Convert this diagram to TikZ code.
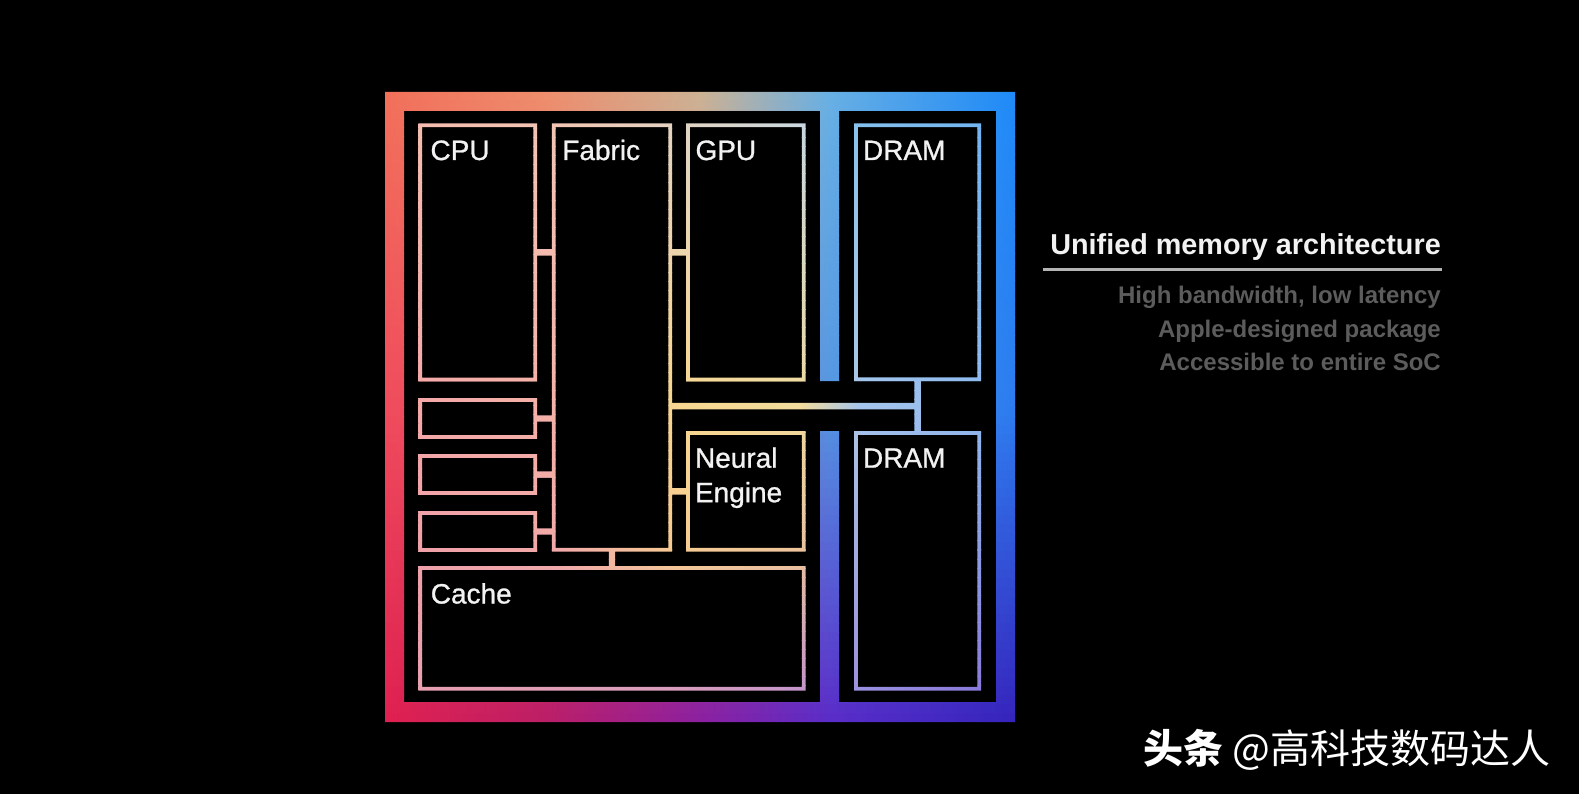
\documentclass[tikz,border=0pt]{standalone}
\usepackage{fontspec}
\setmainfont{Liberation Sans}
\newfontfamily\labelfont[FakeBold=1]{Liberation Sans}
\newfontfamily\cjkfont{Noto Sans CJK SC}
\usetikzlibrary{calc}
% frame gradient grid (rows y=92,407,722 ; columns x=385,542,700,830,1015)
\definecolor{frm1x1}{HTML}{F2705A}\definecolor{frm1x2}{HTML}{EE8E6C}\definecolor{frm1x3}{HTML}{CDB394}\definecolor{frm1x4}{HTML}{68B0E4}\definecolor{frm1x5}{HTML}{1E8AF8}
\definecolor{frm2x1}{HTML}{F04C5C}\definecolor{frm2x2}{HTML}{E2506C}\definecolor{frm2x3}{HTML}{B86890}\definecolor{frm2x4}{HTML}{5496E2}\definecolor{frm2x5}{HTML}{2C7CF0}
\definecolor{frm3x1}{HTML}{E02050}\definecolor{frm3x2}{HTML}{BC1E66}\definecolor{frm3x3}{HTML}{8C20A0}\definecolor{frm3x4}{HTML}{5A2CC8}\definecolor{frm3x5}{HTML}{3424BC}
% inner line gradient grid (rows y=120,405,550,694 ; columns x=416,560,680,800,860,984)
\definecolor{inr1x1}{HTML}{F4BCB0}\definecolor{inr1x2}{HTML}{F2C6B4}\definecolor{inr1x3}{HTML}{E2D4C4}\definecolor{inr1x4}{HTML}{CAD8E0}\definecolor{inr1x5}{HTML}{84C0EE}\definecolor{inr1x6}{HTML}{70B4F0}
\definecolor{inr2x1}{HTML}{F4A8A8}\definecolor{inr2x2}{HTML}{F4B2A8}\definecolor{inr2x3}{HTML}{F8D890}\definecolor{inr2x4}{HTML}{F2DC9C}\definecolor{inr2x5}{HTML}{A6C6EC}\definecolor{inr2x6}{HTML}{90BAEE}
\definecolor{inr3x1}{HTML}{F0A0A8}\definecolor{inr3x2}{HTML}{F2AAA8}\definecolor{inr3x3}{HTML}{F6CC92}\definecolor{inr3x4}{HTML}{EEC49A}\definecolor{inr3x5}{HTML}{9CA8E6}\definecolor{inr3x6}{HTML}{8C9CE4}
\definecolor{inr4x1}{HTML}{E8A0B0}\definecolor{inr4x2}{HTML}{E0A0B8}\definecolor{inr4x3}{HTML}{D89CC0}\definecolor{inr4x4}{HTML}{C494CC}\definecolor{inr4x5}{HTML}{9890E0}\definecolor{inr4x6}{HTML}{8878DA}
\definecolor{labelwhite}{HTML}{F2F2F2}
\definecolor{subgrey}{HTML}{5C5C5C}
\definecolor{rulegrey}{HTML}{B4B4B4}
% #1 colour prefix, #2 row segments, #3 column segments, #4 column indices
% strips are pixel aligned (1pt = 1px) and never overlap
\newcommand\gradfill[4]{%
  \foreach \ya/\yb/\ra/\rb in {#2}{%
    \pgfmathtruncatemacro\nn{ceil((\yb-\ya)/9)}%
    \foreach \i in {1,...,\nn}{%
      \pgfmathtruncatemacro\yy{\ya+(\i-1)*9}%
      \pgfmathtruncatemacro\yz{min(\ya+\i*9,\yb)}%
      \pgfmathsetmacro\ff{(\yy+\yz-2*\ya)/(\yb-\ya)}%
      \pgfmathtruncatemacro\pp{round(50*\ff)}%
      \foreach \j in {#4}{\xglobal\colorlet{cur\j}{#1\rb x\j!\pp!#1\ra x\j}}%
      \foreach \xa/\xb/\ja/\jb in {#3}{%
        \shade[left color=cur\ja, right color=cur\jb] (\xa,\yy) rectangle (\xb,\yz);
      }%
    }%
  }%
}
\begin{document}
\begin{tikzpicture}[x=1pt,y=-1pt,
  boxn/.style={inner sep=0pt, outer sep=0pt, draw=none},
  lbl/.style={text=labelwhite, anchor=base west, inner sep=0pt, font=\labelfont\fontsize{28}{34}\selectfont},
  titletext/.style={text=labelwhite, anchor=base east, inner sep=0pt, font=\bfseries\fontsize{28.8}{34}\selectfont},
  subtext/.style={text=subgrey, anchor=base east, inner sep=0pt, font=\bfseries\fontsize{24}{30}\selectfont},
  wmtext/.style={text=white, anchor=base west, inner sep=0pt, font=\cjkfont\fontsize{40}{44}\selectfont}]
\fill[black] (0,0) rectangle (1579,794);
\useasboundingbox (0,0) rectangle (1579,794);
\def\hw{1.9}
\def\cw{3.2}
% blocks (centre-line rectangles of the outlines)
\node[boxn, minimum width=115pt,   minimum height=254.2pt] (cpu)    at (477.8,252.4) {};
\node[boxn, minimum width=116.6pt, minimum height=424.4pt] (fabric) at (612,337.5) {};
\node[boxn, minimum width=115.7pt, minimum height=254.2pt] (gpu)    at (745.85,252.4) {};
\node[boxn, minimum width=115pt,   minimum height=37pt]    (s1)     at (477.8,418.5) {};
\node[boxn, minimum width=115pt,   minimum height=37pt]    (s2)     at (477.8,474.5) {};
\node[boxn, minimum width=115pt,   minimum height=37pt]    (s3)     at (477.8,531.5) {};
\node[boxn, minimum width=115.7pt, minimum height=116.7pt] (neural) at (745.85,491.35) {};
\node[boxn, minimum width=383.4pt, minimum height=120.7pt] (cache)  at (612,628.35) {};
\node[boxn, minimum width=123.3pt, minimum height=254pt]   (dram1)  at (917.65,252.3) {};
\node[boxn, minimum width=123.3pt, minimum height=255.7pt] (dram2)  at (917.65,560.85) {};
\coordinate (mem) at ($(dram1.south)!0.5!(dram2.north)$);
% frame with divider
\begin{scope}[even odd rule]
  \clip (385,92) rectangle (1015,722)
    (404,111) -- (820,111) -- (820,381) -- (839,381) -- (839,111) -- (996,111)
    -- (996,702) -- (839,702) -- (839,431) -- (820,431) -- (820,702) -- (404,702) -- cycle;
  \gradfill{frm}{92/407/1/2, 407/722/2/3}{385/542/1/2, 542/700/2/3, 700/830/3/4, 830/1015/4/5}{1,2,3,4,5}
\end{scope}
% block outlines and connectors
\begin{scope}[even odd rule]
  \clip
    foreach \b in {cpu,fabric,gpu,s1,s2,s3,neural,cache,dram1,dram2}{
      ($(\b.north west)+(-\hw,-\hw)$) rectangle ($(\b.south east)+(\hw,\hw)$)
      ($(\b.north west)+(\hw,\hw)$) rectangle ($(\b.south east)+(-\hw,-\hw)$)
    }
    foreach \b in {cpu,s1,s2,s3}{
      ($(\b.east)+(\hw,-\cw)$) rectangle ($(fabric.west|-\b.east)+(-\hw,\cw)$)
    }
    foreach \b in {gpu,neural}{
      ($(fabric.east|-\b.west)+(\hw,-\cw)$) rectangle ($(\b.west)+(-\hw,\cw)$)
    }
    ($(fabric.south)+(-\cw,\hw)$) rectangle ($(fabric.south|-cache.north)+(\cw,-\hw)$)
    ($(dram1.south)+(-\cw,\hw)$) rectangle ($(dram2.north)+(\cw,-\hw)$)
    ($(fabric.east|-mem)+(\hw,-\cw)$) rectangle ($(mem)+(-\cw,\cw)$);
  \gradfill{inr}{120/405/1/2, 405/550/2/3, 550/694/3/4}{416/560/1/2, 560/680/2/3, 680/800/3/4, 800/860/4/5, 860/984/5/6}{1,2,3,4,5,6}
\end{scope}
% block labels
\node[lbl] (cpu-t)    at ($(cpu.north west)+(10,34.7)$) {CPU};
\node[lbl] (fabric-t) at ($(fabric.north west)+(8.4,34.7)$) {Fabric};
\node[lbl] (gpu-t)    at ($(gpu.north west)+(7.3,34.7)$) {GPU};
\node[lbl] (dram1-t)  at ($(dram1.north west)+(6.8,34.7)$) {DRAM};
\node[lbl] (dram2-t)  at ($(dram2.north west)+(6.8,34.7)$) {DRAM};
\node[lbl] (neural-t) at ($(neural.north west)+(6.8,34.7)$) {Neural};
\node[lbl] (neural-u) at ($(neural.north west)+(6.8,69.2)$) {Engine};
\node[lbl] (cache-t)  at ($(cache.north west)+(10.3,35.5)$) {Cache};
% side text
\node[titletext] (uma) at (1441,255) {Unified memory architecture};
\coordinate (rule-l) at (1042.7,269.5);
\coordinate (rule-r) at (1442.3,269.5);
\draw[rulegrey, line width=2.4pt] (rule-l) -- (rule-r);
\node[subtext] (sub1) at (1441,303.3) {High bandwidth, low latency};
\node[subtext] (sub2) at (1441,337) {Apple-designed package};
\node[subtext] (sub3) at (1441,370.3) {Accessible to entire SoC};
% watermark
\node[wmtext] (wm) at (1143,763) {{\bfseries 头条} @高科技数码达人};
\end{tikzpicture}
\end{document}
